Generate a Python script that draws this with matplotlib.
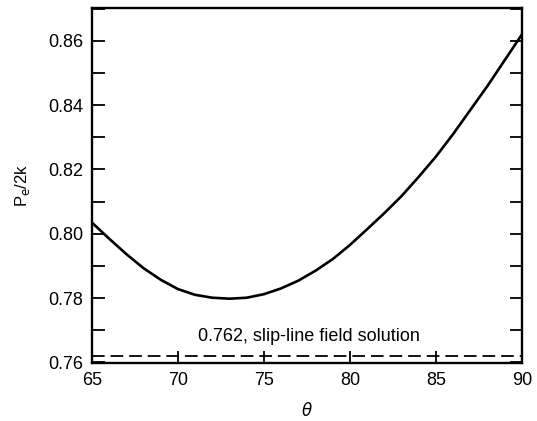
import matplotlib.pyplot as plt
import numpy as np

# 각도 theta 와 P_e/2k 값
theta = [65, 66, 67, 68, 69, 70, 71, 72, 73, 74, 75, 76, 77,
         78, 79, 80, 81, 82, 83, 84, 85, 86, 87, 88, 89, 90]
pe = [0.8035, 0.7985, 0.7937, 0.7893, 0.7857, 0.7828, 0.7810, 0.7801, 0.7798,
      0.7801, 0.7812, 0.7830, 0.7854, 0.7885, 0.7921, 0.7965, 0.8014, 0.8064,
      0.8117, 0.8177, 0.8240, 0.8310, 0.8385, 0.8460, 0.8540, 0.8620]
slip_line = 0.762
xticks = [65, 70, 75, 80, 85, 90]
yticks = [0.76, 0.78, 0.80, 0.82, 0.84, 0.86]

plt.rcParams['font.family'] = ['Liberation Sans', 'DejaVu Sans']

fig = plt.figure(figsize=(5.37, 4.21), dpi=100)
ax = fig.add_axes([0.171, 0.137, 0.801, 0.844])

ax.plot(theta, pe, color='black', lw=1.9)
ax.plot([65, 90], [slip_line, slip_line], color='black', lw=1.3, ls=(0, (7, 3.3)))
ax.text(77.6, 0.768, '0.762, slip-line field solution', fontsize=13,
        ha='center', va='center')

ax.set_xlim(65, 90)
ax.set_ylim(0.7597, 0.8702)
ax.set_xticks(xticks)
ax.set_yticks(yticks)
ax.set_yticklabels([f'{v:.2f}' for v in yticks])
ax.set_yticks(np.arange(0.77, 0.871, 0.02), minor=True)
ax.tick_params(axis='both', which='both', direction='in', length=9, width=1.3,
               labelsize=13, top=False, right=True)
ax.tick_params(axis='y', pad=6)
ax.tick_params(axis='x', pad=6)
for s in ax.spines.values():
    s.set_linewidth(1.7)

ax.set_xlabel(r'$\theta$', fontsize=12, labelpad=9)
ax.set_ylabel(r'P$_\mathrm{e}$/2k', fontsize=12, labelpad=12)

fig.savefig('out.png')
